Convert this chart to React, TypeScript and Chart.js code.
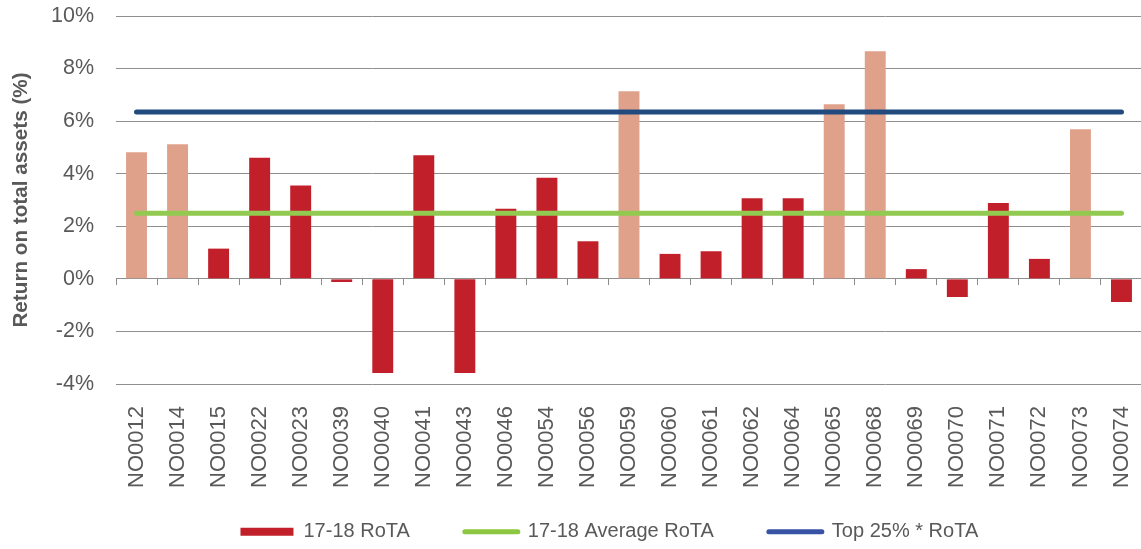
import { useEffect, useRef } from 'react';
import { Chart, registerables } from 'chart.js';

Chart.register(...registerables);

const categories = [
  'NO0012', 'NO0014', 'NO0015', 'NO0022', 'NO0023', 'NO0039', 'NO0040', 'NO0041', 'NO0043',
  'NO0046', 'NO0054', 'NO0056', 'NO0059', 'NO0060', 'NO0061', 'NO0062', 'NO0064', 'NO0065',
  'NO0068', 'NO0069', 'NO0070', 'NO0071', 'NO0072', 'NO0073', 'NO0074',
];
const rotaValues = [
  4.82, 5.12, 1.15, 4.61, 3.55, -0.12, -3.58, 4.7, -3.58,
  2.67, 3.85, 1.43, 7.14, 0.95, 1.05, 3.07, 3.07, 6.64,
  8.66, 0.37, -0.69, 2.89, 0.76, 5.69, -0.88,
];
const lightCategories = ['NO0012', 'NO0014', 'NO0059', 'NO0065', 'NO0068', 'NO0073'];
const averageRoTA = 2.5;
const top25RoTA = 6.35;
const yTicks = [-4, -2, 0, 2, 4, 6, 8, 10];
const seriesLabels = ['17-18 RoTA', '17-18 Average RoTA', 'Top 25% * RoTA'];

const FONT = "'Liberation Sans', Arial, Helvetica, sans-serif";
const TEXT = '#595959';
const DARK_RED = '#C1202A';
const LIGHT_RED = '#E0A18B';
const GREEN = '#92C950';
const BLUE = '#214B7E';
const legendColors = [DARK_RED, '#8DC641', '#3953A4'];

const legendShift = {
  id: 'legendShift',
  afterLayout(chart: any) {
    const lg = chart.legend;
    if (lg) {
      lg.left += 38.35;
      lg.right += 38.35;
      lg.top -= 24.3;
      lg.bottom = chart.height + 10;
    }
  },
};

export default function App() {
  const ref = useRef<HTMLCanvasElement | null>(null);

  useEffect(() => {
    if (!ref.current) return;
    const chart = new Chart(ref.current, {
      type: 'bar',
      data: {
        labels: categories,
        datasets: [
          {
            type: 'bar',
            label: seriesLabels[0],
            data: rotaValues,
            backgroundColor: categories.map((c) => (lightCategories.includes(c) ? LIGHT_RED : DARK_RED)),
            borderWidth: 0,
            barPercentage: 0.51,
            categoryPercentage: 1,
            xAxisID: 'x',
            order: 3,
          } as any,
          {
            type: 'line',
            label: seriesLabels[1],
            data: categories.map(() => averageRoTA),
            borderColor: GREEN,
            backgroundColor: GREEN,
            borderWidth: 5,
            borderCapStyle: 'round',
            pointRadius: 0,
            pointHoverRadius: 0,
            xAxisID: 'x',
            order: 1,
          } as any,
          {
            type: 'line',
            label: seriesLabels[2],
            data: categories.map(() => top25RoTA),
            borderColor: BLUE,
            backgroundColor: BLUE,
            borderWidth: 5,
            borderCapStyle: 'round',
            pointRadius: 0,
            pointHoverRadius: 0,
            xAxisID: 'x',
            order: 0,
          } as any,
        ],
      },
      options: {
        responsive: false,
        animation: false,
        devicePixelRatio: 1,
        layout: { padding: { left: 0, right: 0, top: 16, bottom: 0 } },
        plugins: {
          tooltip: { enabled: false },
          legend: {
            position: 'bottom',
            maxHeight: 58,
            labels: {
              usePointStyle: true,
              pointStyleWidth: 53,
              boxHeight: 8,
              padding: 55,
              color: TEXT,
              font: { family: FONT, size: 20 },
              generateLabels: (ch: any) =>
                ch.data.datasets.map((ds: any, i: number) => ({
                  text: ds.label,
                  datasetIndex: i,
                  fillStyle: legendColors[i],
                  strokeStyle: legendColors[i],
                  lineWidth: i === 0 ? 0 : 5,
                  lineCap: 'round',
                  pointStyle: i === 0 ? 'rect' : 'line',
                  hidden: !ch.isDatasetVisible(i),
                  fontColor: TEXT,
                })),
            },
          },
        },
        scales: {
          x: {
            type: 'category',
            position: 'bottom',
            offset: true,
            grid: { display: false, drawTicks: true, tickLength: 29, offset: true },
            border: { display: false },
            ticks: {
              autoSkip: false,
              minRotation: 90,
              maxRotation: 90,
              padding: -7,
              color: TEXT,
              font: { family: FONT, size: 22 },
            },
            afterFit: (scale: any) => {
              scale.height = 107;
            },
          },
          x2: {
            type: 'category',
            axis: 'x',
            position: { y: 0 },
            offset: true,
            grid: {
              display: true,
              drawOnChartArea: false,
              drawTicks: true,
              tickLength: 6,
              offset: true,
              color: '#8a8a8a',
              lineWidth: 1,
            },
            border: { display: false },
            ticks: { display: false },
          } as any,
          y: {
            min: yTicks[0],
            max: yTicks[yTicks.length - 1],
            grid: {
              color: '#8f8f8f',
              lineWidth: 1,
              drawTicks: true,
              tickLength: 22,
              tickColor: 'rgba(0,0,0,0)',
            },
            border: { display: false },
            ticks: {
              stepSize: yTicks[1] - yTicks[0],
              padding: 0,
              color: TEXT,
              font: { family: FONT, size: 21.5 },
              callback: (v: any) => `${v}%`,
            },
            title: {
              display: true,
              text: 'Return on total assets (%)',
              color: TEXT,
              font: { family: FONT, size: 20.7, weight: 'bold' },
              padding: { top: 9, bottom: 0 },
            },
            afterFit: (scale: any) => {
              scale.width = 116;
            },
          },
        },
      } as any,
      plugins: [legendShift],
    });
    return () => chart.destroy();
  }, []);

  return (
    <div
      style={{
        position: 'absolute',
        left: 0,
        top: 0,
        width: 1141,
        height: 549,
        overflow: 'hidden',
        background: '#fff',
      }}
    >
      <canvas ref={ref} width={1142} height={549} style={{ display: 'block' }} />
    </div>
  );
}
